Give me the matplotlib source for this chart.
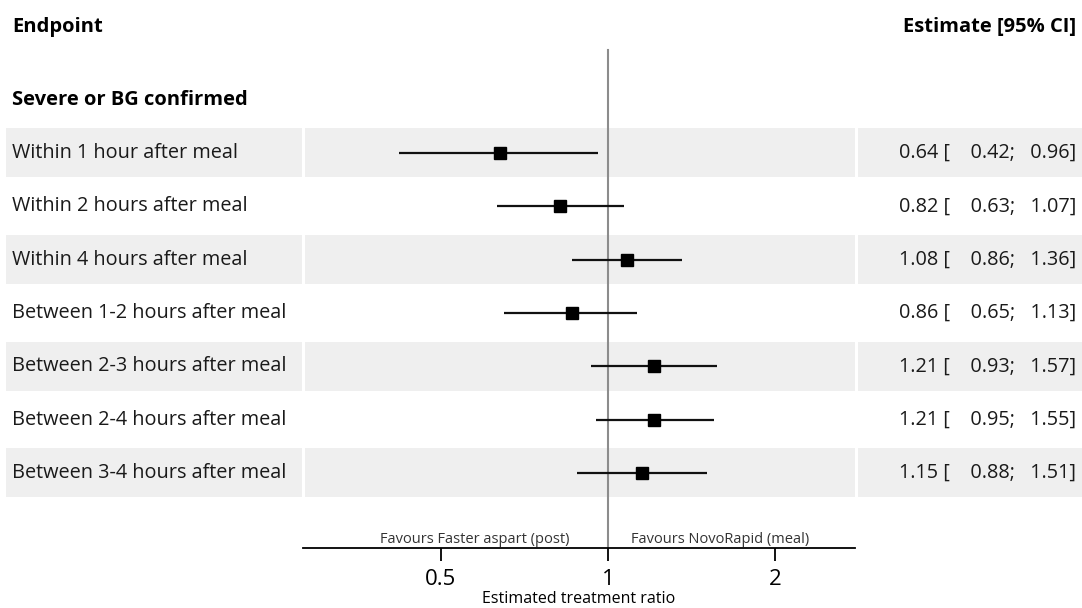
import numpy as np
import matplotlib.pyplot as plt
from matplotlib.patches import Rectangle

plt.rcParams['font.family'] = ['Open Sans', 'DejaVu Sans']

# forest plot data
endpoints = [
    "Within 1 hour after meal",
    "Within 2 hours after meal",
    "Within 4 hours after meal",
    "Between 1-2 hours after meal",
    "Between 2-3 hours after meal",
    "Between 2-4 hours after meal",
    "Between 3-4 hours after meal",
]
est = [0.64, 0.82, 1.08, 0.86, 1.21, 1.21, 1.15]
lower = [0.42, 0.63, 0.86, 0.65, 0.93, 0.95, 0.88]
upper = [0.96, 1.07, 1.36, 1.13, 1.57, 1.55, 1.51]
xticks = [0.5, 1, 2]
xtick_labels = ["0.5", "1", "2"]

W, H = 1082, 608
fig = plt.figure(figsize=(W / 100, H / 100), dpi=100)

# row geometry in pixels
row0 = 153.0
step = 53.33
axis_y = 548.0


def row_units(py):
    return (py - row0) / step


# background axes: whole figure, x in pixels, y in row units
bg = fig.add_axes([0, 0, 1, 1])
bg.set_xlim(0, W)
bg.set_ylim(row_units(H), row_units(0))
bg.axis("off")

rows = np.arange(len(endpoints))
half = 24.5 / step
for i in rows:
    if i % 2 == 0:
        for x0, x1 in [(6, 302), (305, 855), (858, W)]:
            bg.add_patch(Rectangle((x0, i - half), x1 - x0, 2 * half,
                                   facecolor="#efefef", edgecolor="none", zorder=0))

bg.text(12, row_units(27), "Endpoint", fontsize=14.5, fontweight="bold", va="center")
bg.text(12, row_units(100), "Severe or BG confirmed", fontsize=14.5,
        fontweight="bold", va="center")
bg.text(1076, row_units(27), "Estimate [95% CI]", fontsize=14.5,
        fontweight="bold", va="center", ha="right")

for i, name in enumerate(endpoints):
    bg.text(12, i, name, fontsize=14.3, va="center", color="#1a1a1a")
    bg.text(1076, i, f"{est[i]:.2f} [    {lower[i]:.2f};   {upper[i]:.2f}]",
            fontsize=14.3, va="center", ha="right", color="#1a1a1a")

# forest axes, log scale
x_left, x_right = 303, 855
fa = fig.add_axes([x_left / W, (H - axis_y) / H, (x_right - x_left) / W, axis_y / H])
fa.patch.set_alpha(0)
k = 167.0
fa.set_xscale("log")
fa.set_xlim(2 ** ((x_left - 608) / k), 2 ** ((x_right - 608) / k))
fa.set_ylim(row_units(axis_y), row_units(0))

for s in ["top", "right", "left"]:
    fa.spines[s].set_visible(False)
fa.spines["bottom"].set_linewidth(1.3)
fa.set_yticks([])
fa.set_xticks(xticks)
fa.set_xticklabels(xtick_labels, fontsize=16)
fa.xaxis.set_minor_locator(plt.NullLocator())
fa.tick_params(axis="x", length=9, width=1.3, pad=6)

fa.plot([1, 1], [row_units(50), row_units(axis_y)], color="#8c8c8c", lw=1.5, zorder=1)

fa.hlines(rows, lower, upper, color="#111111", lw=1.6, zorder=2)
fa.plot(est, rows, "s", color="black", markersize=9, zorder=3)

ybot = row_units(axis_y - 1)
fa.text(2 ** ((475 - 608) / k), ybot, "Favours Faster aspart (post)", fontsize=10.5,
        ha="center", va="bottom", color="#333333")
fa.text(2 ** ((720 - 608) / k), ybot, "Favours NovoRapid (meal)", fontsize=10.5,
        ha="center", va="bottom", color="#333333")

fa.set_xlabel("Estimated treatment ratio", fontsize=11.5, labelpad=1)

fig.savefig("out.png", dpi=100)
